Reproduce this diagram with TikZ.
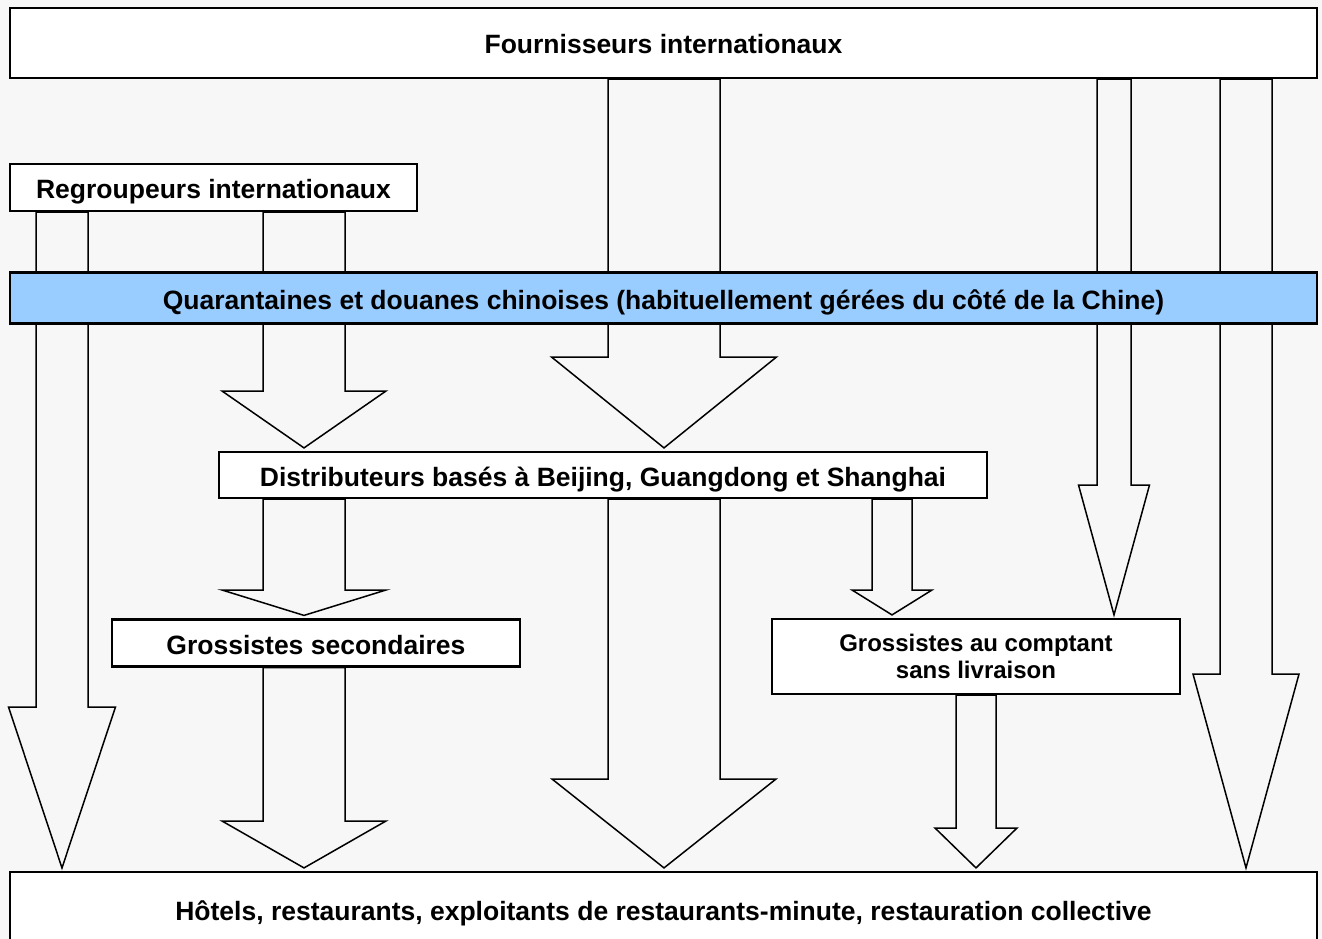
\documentclass[tikz,border=0pt]{standalone}
\usepackage{fontspec}
\setmainfont{Liberation Sans}
\usetikzlibrary{positioning}
\usetikzlibrary{calc}

\definecolor{paper}{HTML}{F7F7F7}
\definecolor{customsblue}{HTML}{99CCFF}

\pgfdeclarelayer{paperlayer}
\pgfdeclarelayer{flowlayer}
\pgfsetlayers{paperlayer,flowlayer,main}

% block arrow: centre x, half shaft, half head, from, head y, to
\newcommand{\flowarrow}[6]{%
  \draw[blockflow] (#1-#2,0 |- #4) -- (#1-#2,#5) -- (#1-#3,#5)
    -- ($(#1,0 |- #6)+(0,-3)$) -- (#1+#3,#5) -- (#1+#2,#5)
    -- (#1+#2,0 |- #4) -- cycle;}

\begin{document}
\begin{tikzpicture}[ x = 1pt, y = -1pt
                   , font = \bfseries\fontsize{26.5}{30}\selectfont
                   , every node/.style = { rectangle
                                       , draw = black
                                       , line width = 2.2pt
                                       , fill = white
                                       , inner sep = 0pt
                                       , align = center }
                   ]

  \useasboundingbox (0,0) rectangle (1322,939);
  \begin{pgfonlayer}{paperlayer}
    \fill[paper] (0,0) rectangle (1322,939);
  \end{pgfonlayer}

  %%
  %% Nodes
  %%
  \tikzset{ line/.style={text height=23.5pt, text depth=1.5pt}
          , wide/.style={line, minimum width=1307pt}
          , box/.style={minimum width=408pt, minimum height=47pt}
          , customs/.style={fill=customsblue}
          , small/.style={font=\bfseries\fontsize{24}{27}\selectfont}
          , blockflow/.style={draw=black, line width=1.5pt, fill=paper}
          }

  \node (four) [wide, minimum height=70pt] at (663.5,43) {Fournisseurs internationaux};
  \node (regr) [line, minimum width=407pt, minimum height=47pt] at (213.5,187.5)
        {Regroupeurs internationaux};
  \node (quar) [wide, customs, minimum height=51pt] at (663.5,298)
        {Quarantaines et douanes chinoises (habituellement gérées du côté de la Chine)};
  \node (dist) [line, minimum width=768pt, minimum height=46pt] at (603,475)
        {Distributeurs basés à Beijing, Guangdong et Shanghai};
  \node (gsec) [line, box] at (316,643) {Grossistes secondaires};
  \node (gac) [box, small, minimum height=75pt] at (976,656.5)
        {Grossistes au comptant\\ sans livraison};
  \node (hotel) [wide, minimum height=74pt] at (663.5,909)
        {Hôtels, restaurants, exploitants de restaurants-minute, restauration collective};

  %%
  %% Flows between nodes (block arrows)
  %%
  \begin{pgfonlayer}{flowlayer}
    % From the suppliers.
    \flowarrow{664}{56}{112.5}{four.south}{357}{dist.north}
    \flowarrow{1114}{17}{35.5}{four.south}{485}{gac.north}
    \flowarrow{1246}{26}{53}{four.south}{674}{hotel.north}
    % From the consolidators.
    \flowarrow{62}{26}{53.5}{regr.south}{707}{hotel.north}
    \flowarrow{304}{41}{82}{regr.south}{391}{dist.north}
    % From the distributors.
    \flowarrow{304}{41}{82}{dist.south}{590}{gsec.north}
    \flowarrow{664}{56}{112}{dist.south}{779}{hotel.north}
    \flowarrow{892}{20}{40}{dist.south}{590}{gac.north}
    % From the wholesalers.
    \flowarrow{304}{41}{82}{gsec.south}{821}{hotel.north}
    \flowarrow{976}{20}{41}{gac.south}{828}{hotel.north}
  \end{pgfonlayer}
\end{tikzpicture}
\end{document}
